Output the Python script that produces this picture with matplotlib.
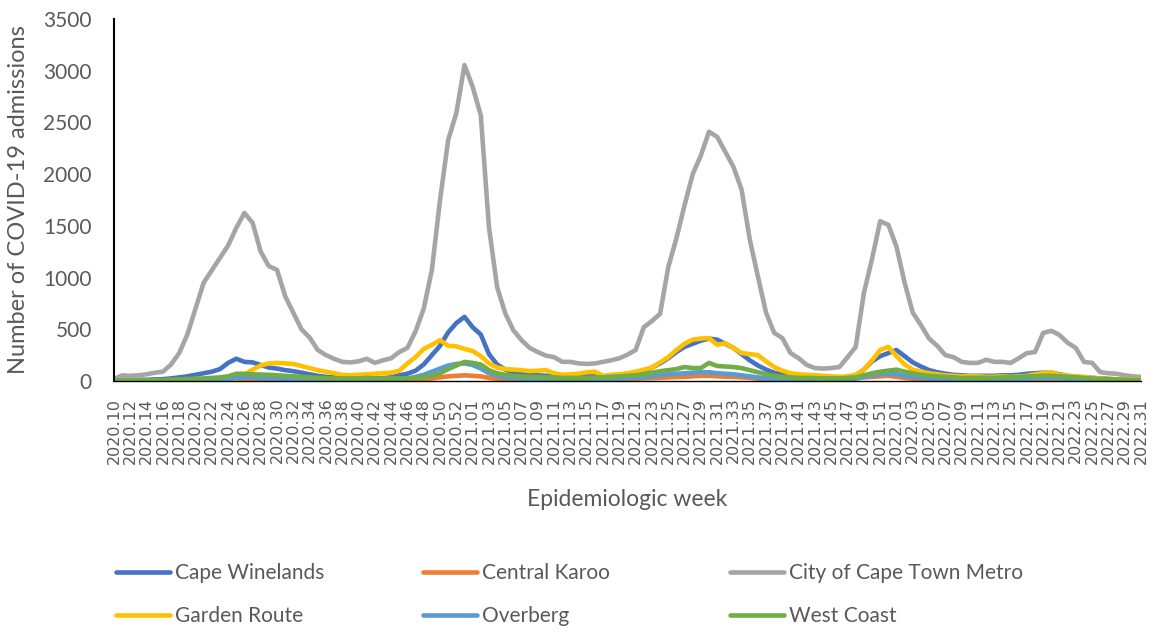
import matplotlib
matplotlib.use('Agg')
import matplotlib.pyplot as plt

# epidemiologic weeks 2020.10 .. 2022.31 (2020 has 53 weeks)
weeks = ([f'2020.{w:02d}' for w in range(10, 54)] +
         [f'2021.{w:02d}' for w in range(1, 53)] +
         [f'2022.{w:02d}' for w in range(1, 32)])

# weekly admissions per district
cape_winelands = [
    10, 12, 10, 12, 12, 15, 18, 25, 35, 45, 60, 75, 90, 115, 175, 215, 185, 180, 155, 130,
    120, 105, 95, 80, 65, 50, 40, 35, 30, 28, 25, 25, 25, 28, 35, 55, 70, 100, 160, 250,
    340, 470, 560, 620,
    520, 450, 260, 160, 110, 85, 70, 60, 55, 50, 50, 45, 45, 45, 45, 45, 45, 50, 55, 65,
    80, 100, 130, 170, 220, 280, 330, 360, 390, 410, 400, 360, 320, 260, 200, 150, 110, 80, 60, 45,
    40, 35, 30, 30, 30, 30, 35, 50, 110, 190, 240, 270,
    300, 240, 180, 140, 105, 85, 70, 60, 55, 50, 50, 50, 50, 55, 55, 60, 70, 75, 80, 80,
    65, 50, 40, 35, 30, 25, 20, 15, 12, 10, 10,
]
central_karoo = [
    2, 2, 2, 2, 2, 2, 2, 2, 2, 3, 3, 3, 4, 4, 5, 5, 8, 10, 10, 8,
    6, 5, 5, 5, 4, 4, 4, 4, 4, 4, 4, 4, 4, 4, 5, 6, 8, 12, 18, 25,
    35, 45, 50, 55,
    50, 45, 30, 20, 15, 12, 10, 10, 10, 10, 10, 10, 10, 10, 10, 10, 10, 12, 15, 18,
    22, 25, 28, 30, 35, 38, 40, 45, 50, 50, 45, 42, 40, 35, 30, 22, 15, 10, 8, 8,
    8, 8, 8, 8, 8, 10, 15, 25, 35, 40, 45, 50,
    40, 30, 20, 15, 10, 8, 8, 8, 8, 8, 8, 8, 8, 8, 8, 8, 10, 10, 10, 10,
    8, 8, 6, 6, 5, 5, 5, 4, 4, 4, 4,
]
cape_town_metro = [
    20, 55, 50, 55, 65, 80, 90, 160, 270, 450, 700, 950, 1070, 1190, 1310, 1480, 1625, 1530, 1250, 1110,
    1075, 820, 660, 500, 420, 300, 250, 215, 185, 180, 190, 215, 175, 200, 220, 280, 320, 480, 700, 1075,
    1750, 2330, 2590, 3055,
    2845, 2570, 1490, 910, 655, 490, 395, 320, 280, 245, 230, 185, 185, 170, 165, 170, 185, 200, 220, 255,
    300, 520, 580, 650, 1100, 1380, 1700, 2000, 2180, 2410, 2360, 2215, 2070, 1850, 1370, 1010, 660, 465, 415, 270,
    220, 155, 125, 120, 125, 135, 230, 330, 850, 1180, 1545, 1510,
    1300, 950, 660, 540, 410, 340, 250, 230, 185, 175, 175, 205, 185, 185, 175, 220, 270, 280, 465, 485,
    445, 370, 320, 185, 175, 85, 75, 70, 55, 45, 40,
]
garden_route = [
    5, 5, 5, 5, 5, 5, 5, 5, 6, 6, 6, 6, 8, 8, 10, 20, 60, 110, 150, 170,
    175, 170, 165, 145, 125, 105, 90, 75, 60, 55, 60, 65, 70, 75, 80, 100, 170, 230, 310, 350,
    395, 340, 335, 310,
    290, 240, 170, 130, 115, 110, 105, 95, 100, 105, 75, 60, 65, 70, 85, 90, 50, 60, 65, 75,
    90, 110, 130, 180, 230, 300, 360, 400, 410, 415, 350, 365, 320, 270, 260, 250, 190, 135, 100, 75,
    65, 60, 55, 50, 45, 40, 45, 60, 110, 200, 300, 330,
    240, 160, 110, 90, 75, 65, 55, 50, 45, 45, 45, 40, 40, 45, 40, 45, 50, 65, 75, 85,
    60, 50, 45, 40, 30, 25, 20, 18, 15, 15, 12,
]
overberg = [
    3, 3, 3, 3, 3, 3, 5, 5, 5, 8, 10, 12, 15, 18, 22, 30, 35, 35, 30, 28,
    25, 22, 20, 18, 15, 12, 10, 10, 10, 10, 10, 10, 12, 12, 12, 15, 25, 40, 60, 90,
    120, 150, 165, 170,
    155, 120, 75, 50, 35, 30, 25, 22, 20, 20, 18, 18, 18, 18, 18, 20, 20, 22, 25, 28,
    32, 38, 45, 55, 65, 70, 75, 80, 85, 85, 75, 70, 65, 55, 45, 35, 25, 20, 15, 15,
    12, 12, 12, 12, 12, 15, 18, 25, 40, 55, 65, 70,
    65, 50, 40, 30, 25, 22, 20, 18, 18, 18, 18, 18, 18, 18, 20, 22, 25, 28, 30, 30,
    28, 25, 20, 18, 15, 12, 10, 8, 8, 6, 5,
]
west_coast = [
    5, 5, 5, 5, 5, 8, 10, 12, 15, 20, 22, 25, 30, 35, 45, 70, 70, 65, 62, 60,
    55, 50, 45, 40, 35, 30, 28, 25, 25, 25, 25, 30, 25, 25, 25, 25, 25, 30, 35, 50,
    75, 115, 150, 185,
    175, 160, 105, 75, 60, 50, 45, 40, 40, 35, 35, 30, 30, 30, 30, 35, 35, 40, 45, 50,
    55, 65, 80, 95, 105, 115, 135, 125, 125, 175, 145, 140, 135, 125, 105, 85, 65, 50, 40, 35,
    30, 30, 28, 25, 25, 25, 30, 35, 55, 75, 90, 100,
    110, 90, 75, 60, 50, 45, 40, 35, 30, 30, 30, 30, 30, 35, 35, 40, 45, 45, 50, 50,
    45, 40, 35, 30, 25, 20, 18, 15, 12, 10, 10,
]

series = [
    ('Cape Winelands', cape_winelands, '#4472C4'),
    ('Central Karoo', central_karoo, '#ED7D31'),
    ('City of Cape Town Metro', cape_town_metro, '#A5A5A5'),
    ('Garden Route', garden_route, '#FFC000'),
    ('Overberg', overberg, '#5B9BD5'),
    ('West Coast', west_coast, '#70AD47'),
]

text_color = '#595959'
plt.rcParams['font.family'] = ['Lato', 'DejaVu Sans']

fig = plt.figure(figsize=(11.53, 6.32), dpi=100)
ax = fig.add_axes([114 / 1153, 1 - 381 / 632, (1141 - 114) / 1153, (381 - 19) / 632])

x = list(range(len(weeks)))
lines = {}
for name, vals, color in series:
    assert len(vals) == len(weeks), name
    ln, = ax.plot(x, vals, color=color, lw=3.3, solid_joinstyle='round',
                  solid_capstyle='round', label=name)
    lines[name] = ln

ax.set_xlim(0, len(weeks) - 1)
ax.set_ylim(0, 3500)
ax.set_yticks(range(0, 3501, 500))
ax.set_xticks(x[::2])
ax.set_xticklabels(weeks[::2], rotation=90, fontsize=11.5, color=text_color,
                   family='DejaVu Sans', va='top')
ax.tick_params(axis='y', length=0, pad=16, labelsize=15, labelcolor=text_color)
ax.tick_params(axis='x', length=0, pad=12)

for side in ['top', 'right']:
    ax.spines[side].set_visible(False)
ax.spines['left'].set_linewidth(1.5)
ax.spines['left'].set_color('black')
ax.spines['bottom'].set_linewidth(1.0)
ax.spines['bottom'].set_color('black')

ax.set_ylabel('Number of COVID-19 admissions', fontsize=17, color=text_color, labelpad=10)
ax.set_xlabel('Epidemiologic week', fontsize=16.5, color=text_color, labelpad=18)

# legend: 2 rows x 3 equal-width columns
columns = [['Cape Winelands', 'Garden Route'],
           ['Central Karoo', 'Overberg'],
           ['City of Cape Town Metro', 'West Coast']]
col_x = [116, 423, 730]
for names, cx in zip(columns, col_x):
    leg = fig.legend([lines[n] for n in names], names, loc='upper left',
                     bbox_to_anchor=(cx / 1153, 1 - 563 / 632), frameon=False,
                     fontsize=15, handlelength=2.6, handletextpad=0.25,
                     labelspacing=1.1, borderpad=0, borderaxespad=0)
    for t in leg.get_texts():
        t.set_color(text_color)

fig.savefig('out.png', dpi=100)
